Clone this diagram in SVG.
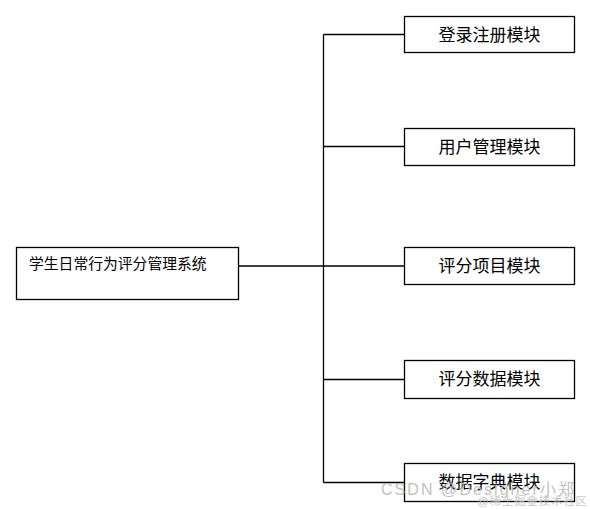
<svg xmlns="http://www.w3.org/2000/svg" width="590" height="509" viewBox="0 0 590 509">
<style>
.box{fill:#fff;stroke:#000;stroke-width:1.3}
.lbl{font-family:"Noto Sans CJK SC","Noto Sans",sans-serif;font-size:17px;fill:#000;text-anchor:middle}
.main{font-family:"Noto Sans CJK SC","Noto Sans",sans-serif;font-size:14.8px;fill:#000}
.wire{fill:none;stroke:#000;stroke-width:1.3}
.wm{font-family:"Liberation Sans","Noto Sans CJK SC",sans-serif;fill:#bbb}
</style>
<rect width="590" height="509" fill="#fff"/>
<g id="connectors">
<path class="wire" d="M323.5 34.5V482.5"/>
<path class="wire" d="M238.5 266H404.5"/>
<path class="wire" d="M323.5 34.5H404.5"/>
<path class="wire" d="M323.5 146.5H404.5"/>
<path class="wire" d="M323.5 379.5H404.5"/>
<path class="wire" d="M323.5 482.5H404.5"/>
</g>
<g id="root">
<rect class="box" x="16.5" y="247.5" width="222" height="52"/>
<text class="main" x="29" y="269">学生日常行为评分管理系统</text>
</g>
<g id="login">
<rect class="box" x="404.5" y="16.5" width="170" height="36"/>
<text class="lbl" x="489.5" y="41">登录注册模块</text>
</g>
<g id="user">
<rect class="box" x="404.5" y="128.5" width="170" height="37"/>
<text class="lbl" x="489.5" y="153">用户管理模块</text>
</g>
<g id="item">
<rect class="box" x="404.5" y="247.5" width="170" height="37"/>
<text class="lbl" x="489.5" y="272">评分项目模块</text>
</g>
<g id="data">
<rect class="box" x="404.5" y="360.5" width="170" height="38"/>
<text class="lbl" x="489.5" y="385">评分数据模块</text>
</g>
<g id="dict">
<rect class="box" x="404.5" y="463.5" width="170" height="38"/>
<text class="lbl" x="489.5" y="488">数据字典模块</text>
</g>
<g id="watermark">
<text class="wm" x="381" y="495" font-size="16" textLength="193" opacity="0.9">CSDN @Designer小郑</text>
<text class="wm" x="477" y="505" font-size="11.5" textLength="110" opacity="0.8">@稀土掘金技术社区</text>
</g>
</svg>
